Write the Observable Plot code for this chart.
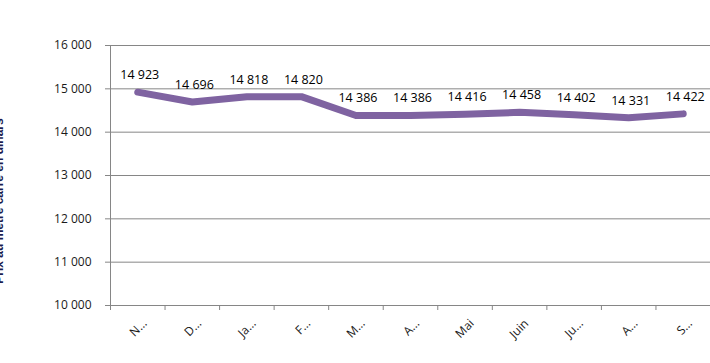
<!DOCTYPE html>
<html>
<head>
<meta charset="utf-8">
<script src="https://cdn.jsdelivr.net/npm/d3@7"></script>
<script src="https://cdn.jsdelivr.net/npm/@observablehq/plot@0.6"></script>
<style>
  html, body { margin: 0; padding: 0; background: #fff; overflow: hidden; }
  #chart { position: relative; width: 710px; height: 363px; }
  #ytitle {
    position: absolute; left: 0; top: 0;
    font-family: "Liberation Sans", Arial, sans-serif; font-weight: bold; font-size: 12px;
    color: #1c1c50; white-space: nowrap;
    transform-origin: 0 0;
  }
</style>
</head>
<body>
<div id="chart"></div>
<script>
const months = ["N…", "D…", "Ja…", "F…", "M…", "A…", "Mai", "Juin", "Ju…", "A…", "S…"];
const prices = [14923, 14696, 14818, 14820, 14386, 14386, 14416, 14458, 14402, 14331, 14422];
const yTicks = [10000, 11000, 12000, 13000, 14000, 15000, 16000];
const yTitle = "Prix au mètre carré en dinars";

const fmt = d3.formatLocale({thousands: "\u00a0", grouping: [3], decimal: ","}).format(",");
const data = months.map((m, i) => ({pos: i + 0.5, month: m, value: prices[i]}));
const centers = months.map((m, i) => i + 0.5);
const bounds = d3.range(months.length + 1);

const chart = Plot.plot({
  width: 710,
  height: 363,
  marginLeft: 110,
  marginRight: 0,
  marginTop: 45,
  marginBottom: 58,
  style: {fontFamily: "'Open Sans', sans-serif", fontSize: "12px", color: "#1a1a1a", background: "#fff"},
  x: {type: "linear", domain: [0, months.length]},
  y: {domain: [10000, 16000]},
  marks: [
    Plot.ruleY(yTicks.slice(1), {stroke: "#868686", strokeWidth: 1}),
    Plot.ruleY([10000], {stroke: "#868686", strokeWidth: 1}),
    Plot.ruleX([0], {stroke: "#868686", strokeWidth: 1}),
    Plot.axisY(yTicks, {tickSize: 5, tickPadding: 14, tickFormat: fmt, stroke: "#868686", fill: "#1a1a1a", fontSize: 12, label: null}),
    Plot.axisX(bounds, {tickSize: 5, tickFormat: () => "", stroke: "#868686", label: null}),
    Plot.axisX(centers, {tickSize: 0, tickPadding: 16, tickRotate: -45, dx: 7, tickFormat: d => months[Math.floor(d)], fill: "#1a1a1a", fontSize: 12, label: null}),
    Plot.line(data, {x: "pos", y: "value", stroke: "#7f63a1", strokeWidth: 7, strokeLinecap: "round", strokeLinejoin: "round"}),
    Plot.text(data, {x: "pos", y: "value", text: d => fmt(d.value), dy: -17, dx: 2, fill: "#000", fontSize: 12.5})
  ]
});
document.getElementById("chart").appendChild(chart);

const t = document.createElement("div");
t.id = "ytitle";
t.textContent = yTitle;
document.getElementById("chart").appendChild(t);
const w = t.getBoundingClientRect().width;
t.style.transform = `translate(-8px, ${201 + w / 2}px) rotate(-90deg)`;
</script>
</body>
</html>
